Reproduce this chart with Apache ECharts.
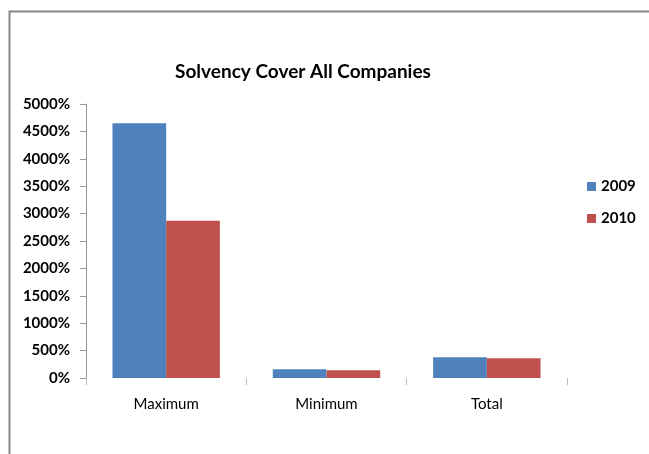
<!DOCTYPE html>
<html><head><meta charset="utf-8">
<script src="https://cdn.jsdelivr.net/npm/echarts@6/dist/echarts.min.js"></script>
<style>html,body{margin:0;padding:0;background:#fff}#c{width:649px;height:454px}</style>
</head><body><div id="c"></div>
<script>
var categories = ['Maximum', 'Minimum', 'Total'];
var series2009 = [4650, 160, 380];
var series2010 = [2870, 140, 360];
var seriesNames = ['2009', '2010'];
var yTicks = [0, 500, 1000, 1500, 2000, 2500, 3000, 3500, 4000, 4500, 5000];

var font = 'Lato, "Open Sans", sans-serif';
var chart = echarts.init(document.getElementById('c'), null, {renderer: 'canvas'});
chart.setOption({
  animation: false,
  backgroundColor: '#fff',
  graphic: [{
    type: 'rect', left: 7, top: 9, shape: {x: 0, y: 0, width: 700, height: 500},
    style: {fill: 'none', stroke: '#888', lineWidth: 2}, silent: true, z: -1
  }],
  title: {
    text: 'Solvency Cover All Companies', left: 298, top: 57, textAlign: 'center',
    textStyle: {fontFamily: font, fontSize: 19, fontWeight: 'bold', color: '#000'}
  },
  legend: {
    orient: 'vertical', left: 582, top: 174, itemWidth: 9, itemHeight: 9, itemGap: 17,
    icon: 'rect', textStyle: {fontFamily: font, fontSize: 15, fontWeight: 'bold', color: '#000'},
    data: seriesNames
  },
  grid: {left: 86, right: 82, top: 104, bottom: 76, containLabel: false},
  xAxis: {
    type: 'category', data: categories,
    axisLine: {show: false},
    axisTick: {show: true, length: 7, lineStyle: {color: '#bbb'}},
    axisLabel: {fontFamily: font, fontSize: 15, color: '#000', margin: 19}
  },
  yAxis: {
    type: 'value', min: yTicks[0], max: yTicks[yTicks.length - 1], interval: 500,
    splitLine: {show: false},
    axisLine: {show: true, lineStyle: {color: '#999'}},
    axisTick: {show: true, length: 6, lineStyle: {color: '#999'}},
    axisLabel: {fontFamily: font, fontSize: 15, fontWeight: 'bold', color: '#000', margin: 16,
      formatter: function (v) { return v + '%'; }}
  },
  series: [
    {name: seriesNames[0], type: 'bar', data: series2009, itemStyle: {color: '#4F81BD'},
     barGap: '0%', barCategoryGap: '33%'},
    {name: seriesNames[1], type: 'bar', data: series2010, itemStyle: {color: '#C0504D'},
     barGap: '0%', barCategoryGap: '33%'}
  ]
});
</script></body></html>
